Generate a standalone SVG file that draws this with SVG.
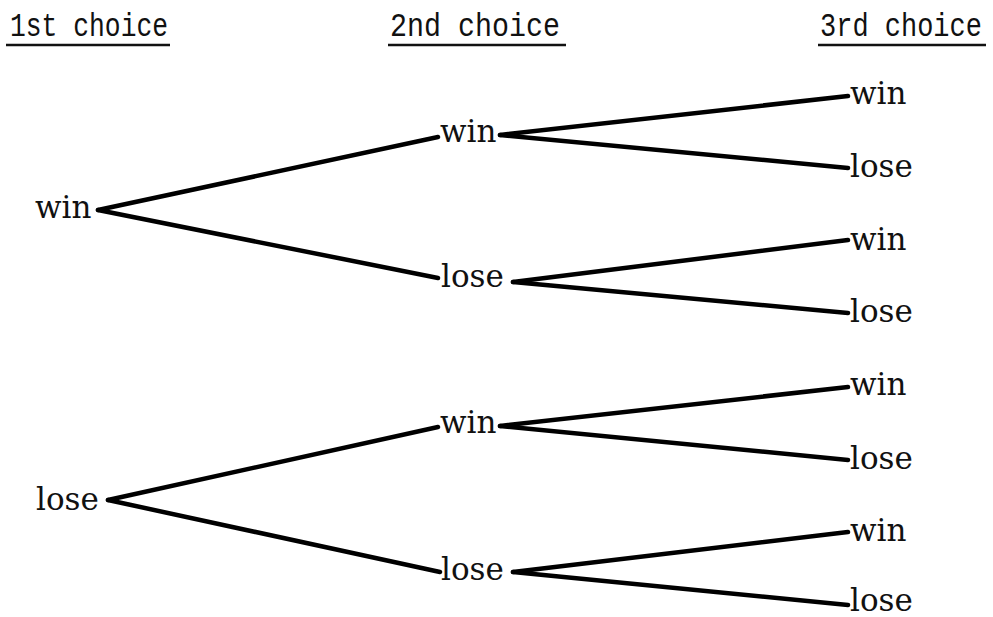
<svg xmlns="http://www.w3.org/2000/svg" width="993" height="617" viewBox="0 0 993 617">
<style>
.hdr{font-family:"Liberation Mono","DejaVu Sans Mono",monospace;font-size:34px;fill:#111}
.ul{stroke:#111;stroke-width:2.5}
.lbl{font-family:"DejaVu Serif","Liberation Serif",serif;font-size:31px;fill:#111}
.edge{stroke:#000;stroke-width:4.5;stroke-linecap:round;fill:none}
</style>
<rect width="993" height="617" fill="#fff"/>
<g id="headers">
<text class="hdr" transform="translate(10,36) scale(0.775,1)">1st choice</text>
<line class="ul" x1="6" y1="45" x2="170" y2="45"/>
<text class="hdr" transform="translate(390,36) scale(0.833,1)">2nd choice</text>
<line class="ul" x1="388" y1="45" x2="566" y2="45"/>
<text class="hdr" transform="translate(820,36) scale(0.794,1)">3rd choice</text>
<line class="ul" x1="818" y1="45" x2="986" y2="45"/>
</g>
<g id="connectors">
<line class="edge" x1="98" y1="210" x2="438" y2="137"/>
<line class="edge" x1="98" y1="210" x2="438" y2="278"/>
<line class="edge" x1="108" y1="500" x2="438" y2="427"/>
<line class="edge" x1="108" y1="500" x2="440" y2="572"/>
<line class="edge" x1="500" y1="135" x2="848" y2="96"/>
<line class="edge" x1="500" y1="135" x2="848" y2="168"/>
<line class="edge" x1="513" y1="282" x2="848" y2="240"/>
<line class="edge" x1="513" y1="282" x2="848" y2="313"/>
<line class="edge" x1="500" y1="426" x2="848" y2="387"/>
<line class="edge" x1="500" y1="426" x2="848" y2="460"/>
<line class="edge" x1="513" y1="572" x2="848" y2="532"/>
<line class="edge" x1="513" y1="572" x2="848" y2="605"/>
</g>
<g id="n1-win"><text class="lbl" x="35" y="218">win</text></g>
<g id="n1-lose"><text class="lbl" x="36" y="510">lose</text></g>
<g id="n2-win-a"><text class="lbl" x="440" y="142">win</text></g>
<g id="n2-lose-a"><text class="lbl" x="441" y="287">lose</text></g>
<g id="n2-win-b"><text class="lbl" x="440" y="433">win</text></g>
<g id="n2-lose-b"><text class="lbl" x="441" y="580">lose</text></g>
<g id="n3-1"><text class="lbl" x="850" y="104">win</text></g>
<g id="n3-2"><text class="lbl" x="850" y="177">lose</text></g>
<g id="n3-3"><text class="lbl" x="850" y="250">win</text></g>
<g id="n3-4"><text class="lbl" x="850" y="322">lose</text></g>
<g id="n3-5"><text class="lbl" x="850" y="395">win</text></g>
<g id="n3-6"><text class="lbl" x="850" y="469">lose</text></g>
<g id="n3-7"><text class="lbl" x="850" y="541">win</text></g>
<g id="n3-8"><text class="lbl" x="850" y="611">lose</text></g>
</svg>
